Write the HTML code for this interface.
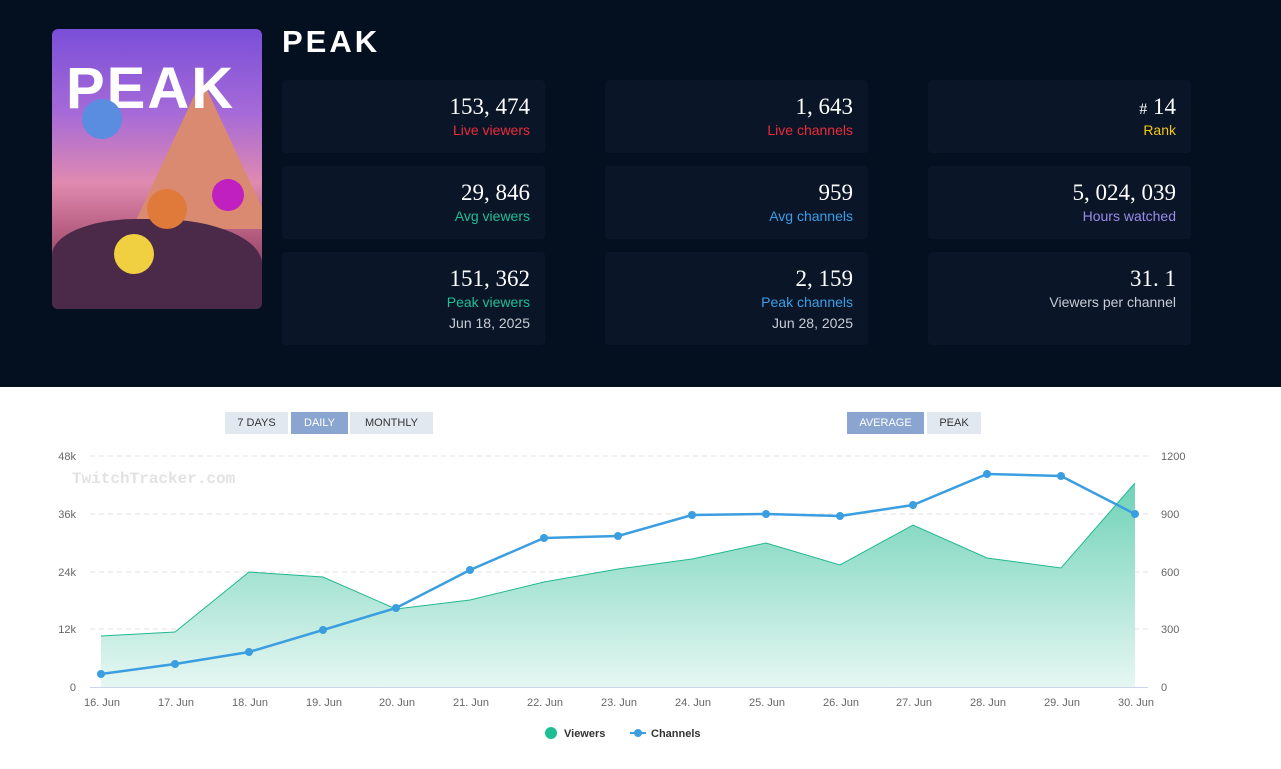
<!DOCTYPE html>
<html><head><style>
*{margin:0;padding:0;box-sizing:border-box}
body{width:1281px;height:769px;background:#fff;font-family:"Liberation Sans",sans-serif;position:relative;overflow:hidden}
#hdr{position:absolute;left:0;top:0;width:1281px;height:387px;background:#040f1f}
#art{position:absolute;left:52px;top:29px;width:210px;height:280px;border-radius:6px;overflow:hidden;background:linear-gradient(180deg,#7a4fd8 0%,#a66ad8 30%,#e08ab0 55%,#b0587a 75%,#5a3050 100%)}
.card{position:absolute;width:263px;background:#0a1628;border-radius:4px;text-align:right;padding-right:15px}
.num{font-family:"Liberation Serif",serif;font-size:23px;color:#fff;margin-top:14px;height:26px;line-height:26px}
.lab{font-size:14px;line-height:20px}
.sub{font-size:14px;color:#c8ccd4;line-height:22px}
.btn{position:absolute;top:412px;height:22px;font-size:11px;line-height:22px;text-align:center;color:#333;background:#e2e8f0}
.btn.on{background:#8aa5cf;color:#fff}
</style></head><body>
<div id="hdr">
<div id="art">
<div style="position:absolute;left:80px;top:50px;width:0;height:0;border-left:70px solid transparent;border-right:70px solid transparent;border-bottom:150px solid #d98a70"></div>
<div style="position:absolute;left:0;top:190px;width:210px;height:90px;background:#4a2a48;border-radius:40% 50% 0 0"></div>
<div style="position:absolute;left:14px;top:26px;font-size:58px;font-weight:bold;color:#fff;letter-spacing:2px">PEAK</div>
<div style="position:absolute;left:30px;top:70px;width:40px;height:40px;border-radius:50%;background:#5a8ce0"></div>
<div style="position:absolute;left:95px;top:160px;width:40px;height:40px;border-radius:50%;background:#e07a3a"></div>
<div style="position:absolute;left:160px;top:150px;width:32px;height:32px;border-radius:50%;background:#c020c0"></div>
<div style="position:absolute;left:62px;top:205px;width:40px;height:40px;border-radius:50%;background:#f0d040"></div>
</div>
<div style="position:absolute;left:282px;top:24px;font-size:31px;font-weight:bold;color:#fff;letter-spacing:3px">PEAK</div>
<div class="card" style="left:282px;top:80px;height:73px"><div class="num">153, 474</div><div class="lab" style="color:#ee2a3a">Live viewers</div></div>
<div class="card" style="left:605px;top:80px;height:73px"><div class="num">1, 643</div><div class="lab" style="color:#ee2a3a">Live channels</div></div>
<div class="card" style="left:928px;top:80px;height:73px"><div class="num"><span style="font-size:16px">#</span> 14</div><div class="lab" style="color:#f3c510">Rank</div></div>
<div class="card" style="left:282px;top:166px;height:73px"><div class="num">29, 846</div><div class="lab" style="color:#1fbf93">Avg viewers</div></div>
<div class="card" style="left:605px;top:166px;height:73px"><div class="num">959</div><div class="lab" style="color:#3a9ee8">Avg channels</div></div>
<div class="card" style="left:928px;top:166px;height:73px"><div class="num">5, 024, 039</div><div class="lab" style="color:#9a8ae8">Hours watched</div></div>
<div class="card" style="left:282px;top:252px;height:93px"><div class="num">151, 362</div><div class="lab" style="color:#1fbf93">Peak viewers</div><div class="sub">Jun 18, 2025</div></div>
<div class="card" style="left:605px;top:252px;height:93px"><div class="num">2, 159</div><div class="lab" style="color:#3a9ee8">Peak channels</div><div class="sub">Jun 28, 2025</div></div>
<div class="card" style="left:928px;top:252px;height:93px"><div class="num">31. 1</div><div class="lab" style="color:#c8ccd4">Viewers per channel</div></div>
</div>
<div class="btn" style="left:225px;width:63px">7 DAYS</div>
<div class="btn on" style="left:291px;width:57px">DAILY</div>
<div class="btn" style="left:350px;width:83px">MONTHLY</div>
<div class="btn on" style="left:847px;width:77px">AVERAGE</div>
<div class="btn" style="left:927px;width:54px">PEAK</div>
<svg width="1281" height="769" style="position:absolute;left:0;top:0" font-family="Liberation Sans, sans-serif">
<defs><linearGradient id="g" x1="0" y1="0" x2="0" y2="1"><stop offset="0" stop-color="#6fd2b8"/><stop offset="1" stop-color="#e6f7f2"/></linearGradient></defs>
<g stroke="#e0e0e0" stroke-dasharray="5,4">
<line x1="90" y1="456" x2="1148" y2="456"/><line x1="90" y1="514" x2="1148" y2="514"/><line x1="90" y1="572" x2="1148" y2="572"/><line x1="90" y1="629" x2="1148" y2="629"/></g>
<text x="72" y="483" font-family="Liberation Mono,monospace" font-size="16" font-weight="bold" fill="#e2e2e2">TwitchTracker.com</text>
<path d="M101,636 L175,632 L249,572 L323,577 L396,609 L470,600 L544,582 L618,569 L692,559 L766,543 L840,565 L913,525 L987,558 L1061,568 L1135,483 L1135,687 L101,687Z" fill="url(#g)"/>
<polyline points="101,636 175,632 249,572 323,577 396,609 470,600 544,582 618,569 692,559 766,543 840,565 913,525 987,558 1061,568 1135,483" fill="none" stroke="#22b890" stroke-width="1"/>
<line x1="90" y1="687.5" x2="1148" y2="687.5" stroke="#ccd6eb"/>
<polyline points="101,674 175,664 249,652 323,630 396,608 470,570 544,538 618,536 692,515 766,514 840,516 913,505 987,474 1061,476 1135,514" fill="none" stroke="#3a9ee0" stroke-width="2.5"/>
<g fill="#3a9ee0"><circle cx="101" cy="674" r="4"/><circle cx="175" cy="664" r="4"/><circle cx="249" cy="652" r="4"/><circle cx="323" cy="630" r="4"/><circle cx="396" cy="608" r="4"/><circle cx="470" cy="570" r="4"/><circle cx="544" cy="538" r="4"/><circle cx="618" cy="536" r="4"/><circle cx="692" cy="515" r="4"/><circle cx="766" cy="514" r="4"/><circle cx="840" cy="516" r="4"/><circle cx="913" cy="505" r="4"/><circle cx="987" cy="474" r="4"/><circle cx="1061" cy="476" r="4"/><circle cx="1135" cy="514" r="4"/></g>
<g font-size="11" fill="#666" text-anchor="end"><text x="76" y="460">48k</text><text x="76" y="518">36k</text><text x="76" y="576">24k</text><text x="76" y="633">12k</text><text x="76" y="691">0</text></g>
<g font-size="11" fill="#666"><text x="1161" y="460">1200</text><text x="1161" y="518">900</text><text x="1161" y="576">600</text><text x="1161" y="633">300</text><text x="1161" y="691">0</text></g>
<g font-size="11" fill="#666" text-anchor="middle"><text x="102" y="706">16. Jun</text><text x="176" y="706">17. Jun</text><text x="250" y="706">18. Jun</text><text x="324" y="706">19. Jun</text><text x="397" y="706">20. Jun</text><text x="471" y="706">21. Jun</text><text x="545" y="706">22. Jun</text><text x="619" y="706">23. Jun</text><text x="693" y="706">24. Jun</text><text x="767" y="706">25. Jun</text><text x="841" y="706">26. Jun</text><text x="914" y="706">27. Jun</text><text x="988" y="706">28. Jun</text><text x="1062" y="706">29. Jun</text><text x="1136" y="706">30. Jun</text></g>
<circle cx="551" cy="733" r="6" fill="#1fbf93"/><text x="564" y="737" font-size="11" font-weight="bold" fill="#333">Viewers</text>
<line x1="630" y1="733" x2="646" y2="733" stroke="#3a9ee0" stroke-width="2"/><circle cx="638" cy="733" r="4" fill="#3a9ee0"/><text x="651" y="737" font-size="11" font-weight="bold" fill="#333">Channels</text>
</svg>
</body></html>
